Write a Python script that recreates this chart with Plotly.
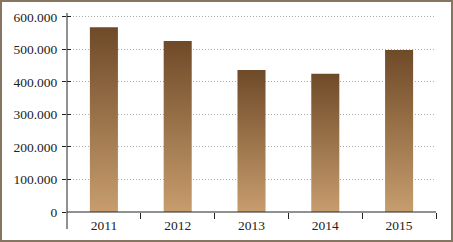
import plotly.graph_objects as go

years = ["2011", "2012", "2013", "2014", "2015"]
values = [568000, 526000, 437000, 425000, 498000]
ytick_vals = [0, 100000, 200000, 300000, 400000, 500000, 600000]

W, H = 453, 242
L, R, T, B = 67, 17, 13, 30
pw, ph = W - L - R, H - T - B

bar_half = 0.19
top_col, bot_col = "#6f4a28", "#c79d6e"

fig = go.Figure()
for i, (yr, v) in enumerate(zip(years, values)):
    fig.add_trace(go.Scatter(
        x=[i - bar_half, i + bar_half, i + bar_half, i - bar_half, i - bar_half],
        y=[0, 0, v, v, 0],
        mode="lines", line=dict(width=0), fill="toself",
        fillgradient=dict(type="vertical", colorscale=[[0, bot_col], [1, top_col]],
                          start=0, stop=v),
        hoverinfo="skip", showlegend=False, xaxis="x", yaxis="y"))

font = dict(family="Liberation Serif, Times New Roman, serif", size=13.5, color="#222")

fig.update_layout(
    width=W, height=H, margin=dict(l=L, r=R, t=T, b=B, autoexpand=False),
    paper_bgcolor="white", plot_bgcolor="white",
    separators=",.",
    font=font,
    xaxis=dict(range=[-0.5, 4.5], tickvals=list(range(len(years))), ticktext=years,
               ticks="", showgrid=False, zeroline=False, showline=False,
               tickfont=font, ticklabelstandoff=3, automargin=False),
    xaxis2=dict(range=[-0.5, 4.5], overlaying="x", tickvals=[0.5, 1.5, 2.5, 3.5, 4.5],
                ticks="outside", ticklen=6, tickcolor="#222", showticklabels=False,
                showgrid=False, zeroline=False, showline=False, side="bottom",
                automargin=False),
    yaxis=dict(range=[0, 612000], tickvals=ytick_vals, tickformat=",d",
               ticks="outside", ticklen=4, tickcolor="#222",
               showgrid=True, gridcolor="#aaa", griddash="1px,2px", gridwidth=1,
               zeroline=False, showline=False, tickfont=font, ticklabelstandoff=2,
               automargin=False),
    yaxis2=dict(range=[0, 612000], overlaying="y", tickvals=ytick_vals,
                ticks="inside", ticklen=4, tickcolor="#222", showticklabels=False,
                showgrid=False, zeroline=False, showline=False, automargin=False),
)

# dummy trace to activate the secondary axes
fig.add_trace(go.Scatter(x=[None], y=[None], xaxis="x2", yaxis="y2",
                         showlegend=False, hoverinfo="skip"))

shapes = [
    # outer border
    dict(type="rect", xref="paper", yref="paper",
         x0=(1 - L) / pw, x1=(W - 1 - L) / pw,
         y0=(T + ph - (H - 1)) / ph, y1=(T + ph - 1) / ph,
         line=dict(color="#857561", width=2), fillcolor="rgba(0,0,0,0)", layer="above"),
    # y axis line (extends below the x axis)
    dict(type="line", xref="paper", yref="paper", x0=0, x1=0,
         y0=-(229 - (T + ph)) / ph, y1=1, line=dict(color="#222", width=1)),
    # x axis line
    dict(type="line", xref="paper", yref="paper", x0=0, x1=1, y0=0, y1=0,
         line=dict(color="#222", width=1)),
]
fig.update_layout(shapes=shapes)

fig.write_html("out.html")
